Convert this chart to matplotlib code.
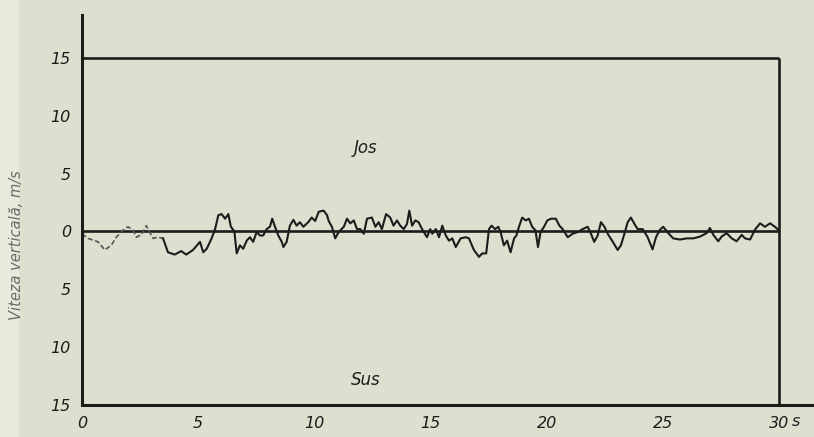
import matplotlib.pyplot as plt
from matplotlib.patches import Rectangle

# trace: time (s) and vertical speed (m/s)
t = [0.0, 0.26, 0.69, 0.98, 1.26, 1.48, 1.76, 1.98, 2.2, 2.34, 2.55, 2.77, 2.91, 3.06, 3.27, 3.49,
     3.70, 3.99, 4.27, 4.49, 4.78, 5.08, 5.22, 5.37, 5.58, 5.73, 5.87, 6.01, 6.16, 6.30, 6.41, 6.56,
     6.66, 6.80, 6.94, 7.09, 7.23, 7.37, 7.52, 7.66, 7.80, 7.95, 8.09, 8.19, 8.31, 8.45, 8.60, 8.67,
     8.81, 8.95, 9.10, 9.24, 9.38, 9.53, 9.74, 9.89, 10.04, 10.19, 10.40, 10.55, 10.62, 10.76, 10.90,
     11.05, 11.27, 11.41, 11.55, 11.70, 11.84, 11.98, 12.13, 12.27, 12.48, 12.63, 12.77, 12.91, 13.09,
     13.27, 13.41, 13.56, 13.70, 13.85, 13.99, 14.09, 14.21, 14.35, 14.49, 14.64, 14.85, 14.99, 15.08,
     15.23, 15.37, 15.51, 15.66, 15.80, 15.94, 16.09, 16.30, 16.52, 16.66, 16.87, 17.09, 17.23, 17.40,
     17.52, 17.63, 17.78, 17.92, 18.02, 18.16, 18.30, 18.45, 18.60, 18.70, 18.81, 18.95, 19.10, 19.24,
     19.38, 19.52, 19.63, 19.74, 19.89, 20.03, 20.19, 20.40, 20.55, 20.69, 20.91, 21.12, 21.34, 21.55,
     21.77, 21.91, 22.05, 22.20, 22.34, 22.49, 22.63, 22.85, 23.06, 23.20, 23.35, 23.49, 23.63, 23.78,
     23.92, 24.14, 24.35, 24.56, 24.71, 24.88, 25.02, 25.24, 25.45, 25.74, 26.03, 26.31, 26.6, 26.89,
     27.03, 27.18, 27.39, 27.53, 27.75, 27.97, 28.18, 28.40, 28.54, 28.76, 28.97, 29.19, 29.40, 29.62,
     29.83, 29.97]
v = [-0.2, -0.6, -0.9, -1.6, -1.2, -0.5, 0.1, 0.4, 0.1, -0.5, -0.3, 0.5, -0.05, -0.6, -0.5, -0.6,
     -1.8, -2.0, -1.7, -2.0, -1.6, -0.9, -1.8, -1.5, -0.6, 0.2, 1.4, 1.5, 1.1, 1.5, 0.4, 0.0,
     -1.9, -1.2, -1.5, -0.8, -0.5, -0.9, -0.05, -0.35, -0.35, 0.2, 0.4, 1.1, 0.4, -0.35, -0.9, -1.35,
     -0.9, 0.5, 1.0, 0.5, 0.8, 0.4, 0.8, 1.2, 0.9, 1.7, 1.8, 1.4, 0.9, 0.4, -0.6,
     -0.05, 0.4, 1.1, 0.7, 0.95, 0.2, 0.2, -0.2, 1.1, 1.2, 0.4, 0.8, 0.2, 1.5,
     1.2, 0.5, 0.95, 0.5, 0.2, 0.65, 1.8, 0.5, 0.95, 0.8, 0.2, -0.5, 0.2, -0.2,
     0.2, -0.5, 0.5, -0.35, -0.8, -0.6, -1.35, -0.6, -0.5, -0.6, -1.6, -2.2, -1.9, -1.9,
     0.2, 0.5, 0.2, 0.4, -0.05, -1.2, -0.8, -1.8, -0.6, -0.35, 0.4, 1.2, 0.95, 1.1,
     0.4, 0.1, -1.35, -0.05, 0.4, 0.95, 1.1, 1.1, 0.5, 0.2, -0.5, -0.2, -0.05, 0.2,
     0.4, -0.2, -0.9, -0.35, 0.8, 0.4, -0.2, -0.9, -1.6, -1.2, -0.2, 0.8, 1.2, 0.65,
     0.2, 0.2, -0.5, -1.55, -0.5, 0.15, 0.4, -0.15, -0.6, -0.7, -0.6, -0.6, -0.45, -0.15,
     0.3, -0.3, -0.85, -0.45, -0.15, -0.6, -0.85, -0.3, -0.6, -0.7, 0.15, 0.7, 0.4, 0.7,
     0.4, 0.15]

xticks = [0, 5, 10, 15, 20, 25, 30]
xlabels = ["0", "5", "10", "15", "20", "25", "30"]
yticks = [-15, -10, -5, 0, 5, 10, 15]
ylabels = ["15", "10", "5", "0", "5", "10", "15"]

paper = "#dce1cf"
ink = "#1c1c1c"
fnt = ["Liberation Sans Narrow", "DejaVu Sans"]

fig = plt.figure(figsize=(8.14, 4.37), dpi=100, facecolor=paper)
fig.patches.append(Rectangle((0, 0), 0.022, 1, transform=fig.transFigure,
                             color="#e7ebdc", zorder=0))
ax = fig.add_axes([0.1007, 0.0732, 0.899, 0.8924])
ax.set_facecolor(paper)
ax.set_xlim(0, 31.5)
ax.set_ylim(-15, 18.7)

for s in ["top", "right"]:
    ax.spines[s].set_visible(False)
ax.spines["left"].set_linewidth(2.2)
ax.spines["bottom"].set_linewidth(2.2)
ax.spines["left"].set_color(ink)
ax.spines["bottom"].set_color(ink)

ax.hlines([0, 15], 0, 30, color=ink, lw=1.9)
ax.vlines(30, -15, 15, color=ink, lw=1.9)

ax.plot(t[:16], v[:16], color="#555555", lw=1.2, ls=(0, (3, 1.5)))
ax.plot(t[15:], v[15:], color=ink, lw=1.5)

ax.set_xticks(xticks)
ax.set_xticklabels(xlabels, fontsize=11.5, style="italic", family=fnt)
ax.set_yticks(yticks)
ax.set_yticklabels(ylabels, fontsize=11.5, style="italic", family=fnt)
ax.tick_params(length=0, pad=8, colors=ink)
ax.text(30.55, -16.45, "s", fontsize=11.5, style="italic", family=fnt, color=ink,
        va="center", ha="left", clip_on=False)

ax.text(12.2, 7.2, "Jos", fontsize=12, style="italic", family=fnt, color=ink, ha="center", va="center")
ax.text(12.2, -12.8, "Sus", fontsize=12, style="italic", family=fnt, color=ink, ha="center", va="center")

fig.text(0.02, 0.44, "Viteza verticală, m/s", rotation=90, fontsize=10.5, style="italic",
         family=fnt, color="#6a6a6a", ha="center", va="center")

plt.savefig("out.png", dpi=100, facecolor=paper)
